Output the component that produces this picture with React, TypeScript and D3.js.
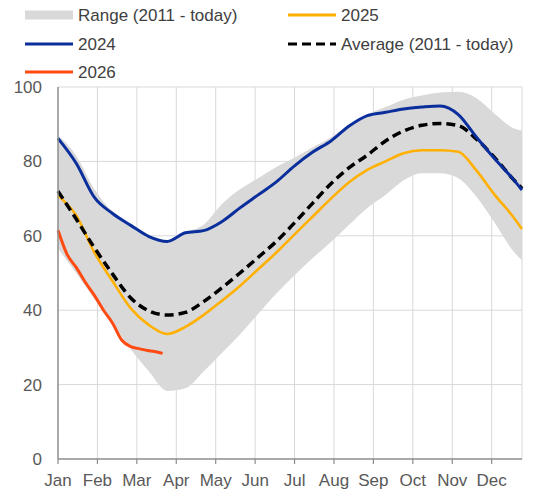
import React from "react";
import * as d3 from "d3";

// week-of-year index, values in %
const weeks = [1, 3, 5, 7, 9, 11, 13, 15, 17, 19, 21, 23, 25, 27, 29, 31, 33, 35, 37, 39, 41, 43, 45, 47, 49, 51, 52];

const rangeHigh = [87, 81.5, 72.5, 66.5, 63, 60, 58.6, 61, 63, 68.5, 72.5, 75.5, 78.5, 81, 83.8, 86.5, 89.8, 92.6, 94.6, 96.6, 97.7, 98.5, 98.7, 97, 92.8, 89, 88.3];
const rangeLow = [56.6, 50, 43, 36.5, 29.5, 23.5, 18.3, 19, 23.5, 28.5, 33.5, 39, 44.5, 49.4, 54, 58.3, 63, 67.5, 71, 74.9, 76.8, 76.8, 75.5, 70.5, 63.5, 56, 53.4];
const avg = [72, 64.5, 56.8, 49.7, 43.3, 39.8, 38.7, 39.4, 42.3, 46, 50, 54.2, 58.5, 63.5, 68.8, 74, 78.3, 81.7, 85.5, 88.2, 89.7, 90.2, 89.6, 86, 81, 75.3, 72.7];
const y2024 = [86.2, 79.5, 70.3, 66, 62.8, 59.8, 58.5, 60.8, 61.4, 63.8, 67.5, 71, 74.5, 78.8, 82.5, 85.5, 89.5, 92.3, 93.2, 94.1, 94.6, 94.9, 92.6, 86.5, 80.7, 75.3, 72.3];
const y2025 = [70.8, 65.5, 55.5, 47.8, 40.5, 36, 33.6, 35.5, 38.7, 42.5, 46.5, 51, 55.5, 60.4, 65.2, 70, 74.4, 77.7, 80, 82.2, 83, 83, 82.6, 77.5, 71, 65.2, 61.8];

const weeks2026 = [1, 2, 3, 4, 5, 6, 7, 8, 9, 10, 11, 12, 12.5];
const y2026 = [61.5, 55, 51.5, 47.5, 44, 40, 36.5, 32, 30.2, 29.6, 29.1, 28.7, 28.4];

const months = ["Jan", "Feb", "Mar", "Apr", "May", "Jun", "Jul", "Aug", "Sep", "Oct", "Nov", "Dec"];
const yTicks = [0, 20, 40, 60, 80, 100];

const W = 557;
const H = 494;
const FONT = "'Liberation Sans', Arial, sans-serif";

export default function App() {
  const x = d3.scaleLinear().domain([1, 52]).range([58, 522]);
  const y = d3.scaleLinear().domain([0, 100]).range([459, 87]);
  const monthWeek = (i: number) => 1 + (i * 52) / 12;

  const area = d3
    .area<number>()
    .x((_, i) => x(weeks[i]))
    .y0((_, i) => y(rangeLow[i]))
    .y1((_, i) => y(rangeHigh[i]))
    .curve(d3.curveMonotoneX);

  const line = (xs: number[]) =>
    d3
      .line<number>()
      .x((_, i) => x(xs[i]))
      .y((d) => y(d))
      .curve(d3.curveMonotoneX);

  const legend = [
    { label: "Range (2011 - today)", kind: "rect", color: "#d9d9d9", lx: 25, ly: 15 },
    { label: "2025", kind: "line", color: "#ffb000", lx: 288, ly: 15 },
    { label: "2024", kind: "line", color: "#0a2f9c", lx: 25, ly: 44 },
    { label: "Average (2011 - today)", kind: "dash", color: "#000", lx: 288, ly: 44 },
    { label: "2026", kind: "line", color: "#ff4a12", lx: 25, ly: 72 },
  ];

  return (
    <svg width={W} height={H} style={{ position: "absolute", left: 0, top: 0, background: "#fff" }} fontFamily={FONT}>
      {/* grid */}
      <g stroke="#d9d9d9" strokeWidth={1}>
        {yTicks.filter((t) => t > 0).map((t) => (
          <line key={t} x1={x(1)} x2={x(52)} y1={y(t)} y2={y(t)} />
        ))}
        {months.map((m, i) => (i > 0 ? <line key={m} x1={x(monthWeek(i))} x2={x(monthWeek(i))} y1={y(100)} y2={y(0)} /> : null))}
        <line x1={x(52)} x2={x(52)} y1={y(100)} y2={y(0)} />
      </g>

      {/* data */}
      <path d={area(rangeLow) || ""} fill="#d9d9d9" />
      <path d={line(weeks)(y2025) || ""} fill="none" stroke="#ffb000" strokeWidth={2.6} />
      <path d={line(weeks)(avg) || ""} fill="none" stroke="#000" strokeWidth={3.5} strokeDasharray="9,5" />
      <path d={line(weeks)(y2024) || ""} fill="none" stroke="#0a2f9c" strokeWidth={3} />
      <path d={line(weeks2026)(y2026) || ""} fill="none" stroke="#ff4a12" strokeWidth={3} />

      {/* axes */}
      <line x1={x(1)} x2={x(1)} y1={y(100)} y2={y(0)} stroke="#8c8c8c" strokeWidth={1.5} />
      <line x1={x(1)} x2={x(52)} y1={y(0)} y2={y(0)} stroke="#8c8c8c" strokeWidth={1.5} />
      {months.map((m, i) => (
        <g key={m} transform={`translate(${x(monthWeek(i))},${y(0)})`}>
          <line y1={0} y2={5} stroke="#8c8c8c" strokeWidth={1.2} />
          <text y={27} textAnchor="middle" fontSize={17} fill="#595959">
            {m}
          </text>
        </g>
      ))}
      {yTicks.map((t) => (
        <text key={t} x={42} y={y(t) + 6} textAnchor="end" fontSize={17} fill="#595959">
          {t}
        </text>
      ))}

      {/* legend */}
      {legend.map((l) => (
        <g key={l.label} transform={`translate(${l.lx},${l.ly})`}>
          {l.kind === "rect" ? (
            <rect x={0} y={-4.5} width={48} height={9} fill={l.color} />
          ) : (
            <line x1={0} x2={48} y1={0} y2={0} stroke={l.color} strokeWidth={3} strokeDasharray={l.kind === "dash" ? "9,5" : undefined} />
          )}
          <text x={53} y={6} fontSize={17} fill="#404040">
            {l.label}
          </text>
        </g>
      ))}
    </svg>
  );
}
